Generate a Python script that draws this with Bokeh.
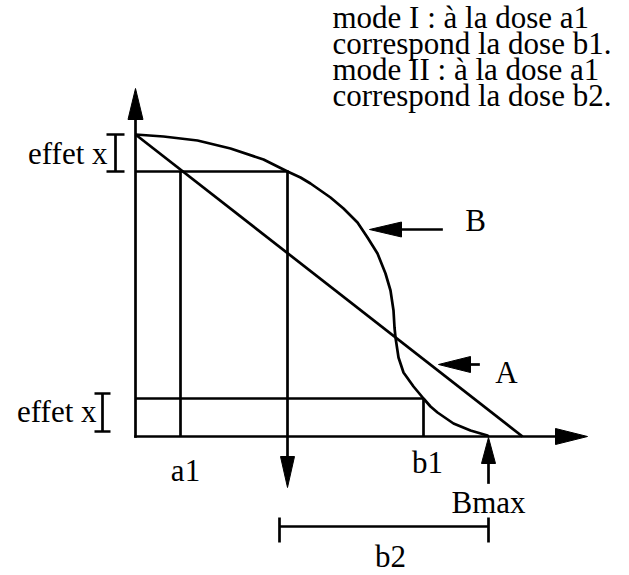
import numpy as np
from bokeh.plotting import figure
from bokeh.models import Range1d
from bokeh.embed import file_html
from bokeh.resources import INLINE
from bokeh.core.properties import value

FONT = "Liberation Serif"
FS = "31px"
LW = 2.7

# ---- diagram values (dose on x, effect on y) ----
# curve B
curve_b_dose = [0, 28, 62, 95, 128, 152, 165, 175, 185, 195, 208, 222, 232, 242,
                250, 255, 258, 259, 260, 263, 268, 278, 288, 295, 302, 318, 335, 352, 353]
curve_b_effect = [302, 300, 296, 288, 277, 265, 259, 253, 246, 239, 228, 214, 199, 183,
                  163, 146, 126, 109, 99, 79, 64, 50, 38, 30, 24, 13, 6, 1, 0]
# straight line A
line_a_dose = [0, 387]
line_a_effect = [302, 0]

effect_top = 302
effect_high = 265
effect_low = 38
dose_a1 = 45
dose_b_high = 152
dose_b1 = 288
dose_bmax = 353
b2_start = 144
b2_level = -90

# arrows: tail x, tail y, tip x, tip y, head length, head half-width
arrow_tail_x = [0, 0, dose_b_high, dose_bmax, 306, 343]
arrow_tail_y = [0, 0, effect_high, -46, 207, 72]
arrow_tip_x = [0, 452, dose_b_high, dose_bmax, 234, 303]
arrow_tip_y = [348, 0, -51, -1, 207, 72]
arrow_len = [31, 32, 31, 26, 32, 32]
arrow_half = [7.5, 8, 7, 7, 7.5, 8]

# labels
label_text = ["effet x", "effet x", "a1", "b1", "Bmax", "b2", "B", "A"]
label_x = [-28, -39, 50, 292, 353, 255, 340, 371]
label_y = [283, 25, -34, -26, -66, -120, 216, 64]
label_align = ["right", "right", "center", "center", "center", "center", "center", "center"]

note_lines = ["mode I : à la dose a1", "correspond la dose b1.",
              "mode II : à la dose a1", "correspond la dose b2."]
note_x = 197
note_y = [419, 393, 367, 341]

p = figure(width=629, height=575, x_range=Range1d(-135, 494), y_range=Range1d(-139, 436),
           output_backend="svg", toolbar_location=None, min_border=0,
           x_axis_location=None, y_axis_location=None)
p.grid.visible = False
p.outline_line_color = None
p.background_fill_color = "white"
p.border_fill_color = "white"

# curve B and line A
p.line(curve_b_dose, curve_b_effect, line_color="black", line_width=LW, line_join="round")
p.line(line_a_dose, line_a_effect, line_color="black", line_width=LW)

# construction lines, brackets, b2 bar
seg_x0 = [0, dose_a1, 0, dose_b1,
          -20, -29, -29,
          -33, -41, -41,
          b2_start, b2_start, dose_bmax]
seg_y0 = [effect_high, 0, effect_low, 0,
          effect_high, effect_top, effect_high,
          5, 43, 5,
          b2_level, b2_level + 9, b2_level + 9]
seg_x1 = [dose_b_high, dose_a1, dose_b1, dose_b1,
          -20, -11, -11,
          -33, -25, -25,
          dose_bmax, b2_start, dose_bmax]
seg_y1 = [effect_high, effect_high, effect_low, effect_low,
          effect_top, effect_top, effect_high,
          43, 43, 5,
          b2_level, b2_level - 16, b2_level - 16]
p.segment(seg_x0, seg_y0, seg_x1, seg_y1, line_color="black", line_width=LW)

# arrows: shafts + filled heads
tx, ty = np.array(arrow_tail_x, float), np.array(arrow_tail_y, float)
hx, hy = np.array(arrow_tip_x, float), np.array(arrow_tip_y, float)
L, W = np.array(arrow_len, float), np.array(arrow_half, float)
d = np.hypot(hx - tx, hy - ty)
ux, uy = (hx - tx) / d, (hy - ty) / d
bx, by = hx - ux * L, hy - uy * L
p.segment(tx, ty, bx, by, line_color="black", line_width=LW, line_cap="square")
xs = [[hx[i], bx[i] - uy[i] * W[i], bx[i] + uy[i] * W[i]] for i in range(len(hx))]
ys = [[hy[i], by[i] + ux[i] * W[i], by[i] - ux[i] * W[i]] for i in range(len(hx))]
p.patches(xs, ys, fill_color="black", line_color="black", line_width=1)

# labels
for t, x, y, a in zip(label_text, label_x, label_y, label_align):
    p.text(x=[x], y=[y], text=[t], text_font=value(FONT), text_font_size=FS,
           text_align=a, text_baseline="alphabetic", text_color="black")
p.text(x=[note_x] * len(note_lines), y=note_y, text=note_lines, text_font=value(FONT),
       text_font_size=FS, text_align="left", text_baseline="alphabetic", text_color="black")

open("out.html", "w").write(file_html(p, INLINE))
